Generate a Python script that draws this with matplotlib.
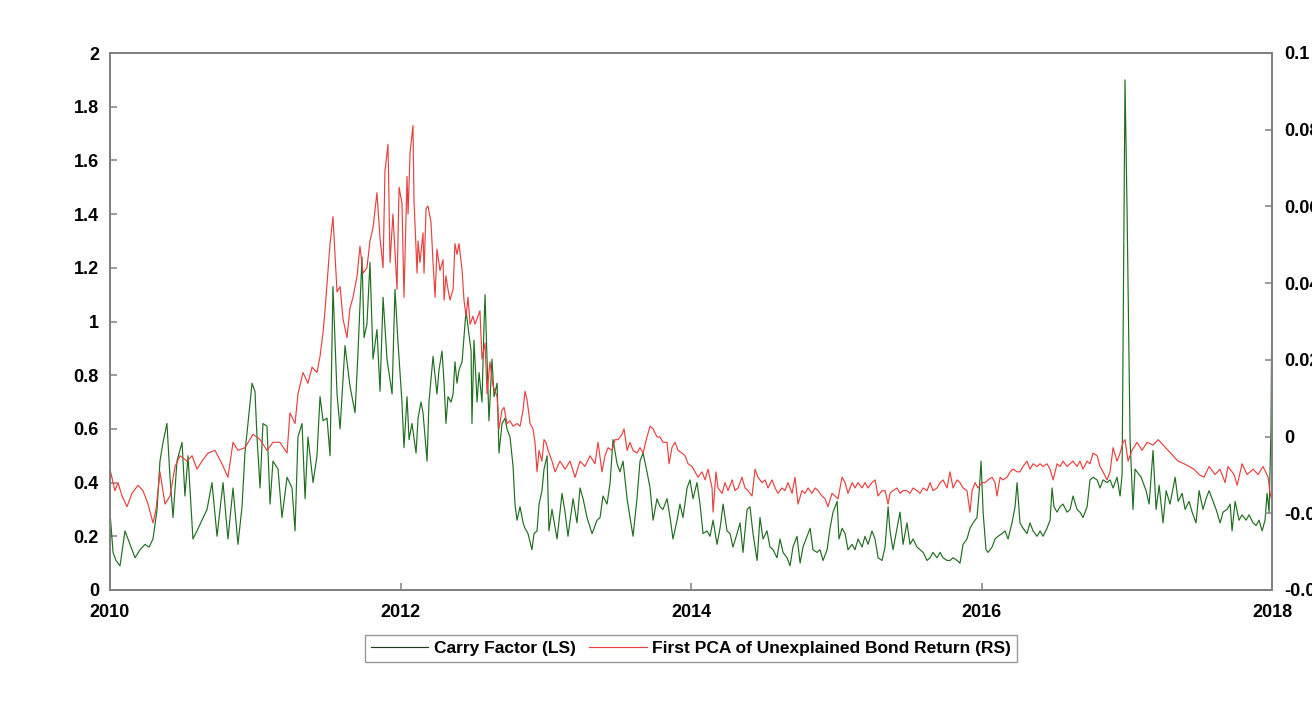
import matplotlib
matplotlib.use("Agg")
import matplotlib.pyplot as plt
import numpy as np

# ---------------- data ----------------
# time given as years since 1 Jan 2010
carry_t = [0.000,0.021,0.041,0.069,0.103,0.138,0.172,0.207,0.241,0.269,0.296,0.324,0.344,0.365,0.392,0.413,0.434,0.461,0.496,0.516,
           0.537,0.571,0.599,0.633,0.668,0.702,0.737,0.778,0.812,0.847,0.881,0.909,0.929,0.978,0.998,1.012,1.033,1.053,1.081,1.102,
           1.122,1.157,1.184,1.219,1.253,1.274,1.294,1.322,1.343,1.363,1.398,1.425,1.446,1.467,1.494,1.515,1.535,1.563,1.584,1.618,
           1.652,1.687,1.707,1.735,1.749,1.769,1.790,1.811,1.838,1.859,1.880,1.907,1.942,1.962,1.983,2.010,2.024,2.045,2.059,2.079,
           2.107,2.121,2.141,2.155,2.183,2.196,2.224,2.251,2.265,2.286,2.300,2.313,2.327,2.348,2.362,2.375,2.389,2.403,2.424,2.437,
           2.451,2.465,2.486,2.492,2.506,2.527,2.541,2.561,2.575,2.582,2.596,2.609,2.630,2.644,2.665,2.678,2.699,2.720,2.733,2.754,
           2.775,2.788,2.802,2.823,2.844,2.857,2.878,2.905,2.919,2.940,2.954,2.974,2.988,3.009,3.022,3.043,3.078,3.112,3.133,3.153,
           3.188,3.215,3.236,3.257,3.284,3.319,3.353,3.374,3.394,3.422,3.443,3.463,3.491,3.511,3.532,3.560,3.580,3.601,3.628,3.649,
           3.670,3.697,3.718,3.739,3.766,3.787,3.807,3.835,3.856,3.876,3.904,3.924,3.945,3.973,3.993,4.014,4.041,4.062,4.083,4.110,
           4.131,4.152,4.179,4.200,4.221,4.248,4.269,4.289,4.317,4.338,4.358,4.386,4.406,4.427,4.455,4.475,4.496,4.523,4.544,4.565,
           4.592,4.613,4.634,4.661,4.682,4.702,4.730,4.751,4.771,4.799,4.820,4.840,4.868,4.888,4.909,4.937,4.957,4.978,5.006,5.019,
           5.040,5.061,5.081,5.109,5.129,5.150,5.178,5.198,5.219,5.246,5.267,5.288,5.315,5.336,5.357,5.370,5.391,5.418,5.439,5.460,
           5.487,5.508,5.529,5.556,5.577,5.598,5.625,5.646,5.666,5.694,5.715,5.735,5.763,5.783,5.804,5.832,5.852,5.873,5.900,5.921,
           5.942,5.969,5.983,5.997,6.011,6.031,6.045,6.073,6.093,6.114,6.141,6.162,6.183,6.210,6.231,6.245,6.265,6.286,6.313,6.334,
           6.355,6.382,6.403,6.424,6.451,6.472,6.486,6.499,6.520,6.541,6.561,6.589,6.610,6.630,6.658,6.678,6.699,6.727,6.747,6.768,
           6.796,6.816,6.837,6.864,6.885,6.906,6.933,6.954,6.968,6.988,7.002,7.023,7.043,7.057,7.099,7.133,7.154,7.181,7.202,7.223,
           7.250,7.271,7.298,7.333,7.354,7.381,7.402,7.429,7.450,7.477,7.498,7.525,7.546,7.567,7.594,7.615,7.643,7.663,7.691,7.712,
           7.725,7.746,7.773,7.794,7.822,7.842,7.870,7.890,7.911,7.932,7.952,7.966,7.980,7.993,8.000]
carry_v = [0.29,0.14,0.11,0.09,0.22,0.17,0.12,0.15,0.17,0.16,0.19,0.30,0.48,0.55,0.62,0.42,0.27,0.48,0.55,0.35,
           0.50,0.19,0.22,0.26,0.30,0.40,0.20,0.40,0.19,0.38,0.17,0.31,0.51,0.77,0.74,0.57,0.38,0.62,0.61,0.32,
           0.48,0.45,0.27,0.42,0.38,0.22,0.57,0.62,0.34,0.57,0.40,0.50,0.72,0.63,0.64,0.50,1.13,0.73,0.60,0.91,
           0.76,0.66,0.88,1.24,0.94,0.99,1.22,0.86,0.97,0.74,1.09,0.86,0.73,1.12,0.92,0.70,0.53,0.72,0.56,0.62,
           0.51,0.64,0.70,0.66,0.48,0.70,0.87,0.73,0.82,0.89,0.77,0.62,0.72,0.70,0.73,0.85,0.77,0.82,0.85,0.94,
           1.04,0.98,0.89,0.62,0.93,0.70,0.81,0.70,0.99,1.10,0.85,0.63,0.86,0.72,0.77,0.51,0.62,0.64,0.60,0.57,
           0.46,0.32,0.26,0.31,0.25,0.23,0.21,0.15,0.21,0.22,0.32,0.37,0.45,0.50,0.22,0.30,0.19,0.36,0.29,0.20,
           0.34,0.25,0.38,0.34,0.27,0.21,0.26,0.27,0.35,0.32,0.40,0.56,0.47,0.44,0.48,0.34,0.27,0.20,0.34,0.48,
           0.51,0.44,0.38,0.26,0.34,0.31,0.30,0.34,0.27,0.19,0.26,0.32,0.27,0.38,0.41,0.34,0.40,0.32,0.21,0.22,
           0.20,0.26,0.17,0.23,0.32,0.22,0.21,0.16,0.21,0.25,0.14,0.30,0.31,0.21,0.11,0.27,0.19,0.22,0.16,0.15,
           0.12,0.19,0.14,0.12,0.09,0.16,0.20,0.10,0.16,0.20,0.23,0.15,0.14,0.15,0.11,0.15,0.23,0.29,0.33,0.19,
           0.23,0.21,0.15,0.17,0.15,0.19,0.16,0.20,0.17,0.22,0.19,0.12,0.11,0.16,0.31,0.22,0.15,0.23,0.29,0.17,
           0.25,0.17,0.19,0.16,0.15,0.14,0.11,0.12,0.14,0.12,0.14,0.12,0.11,0.11,0.12,0.11,0.10,0.17,0.19,0.23,
           0.25,0.27,0.36,0.48,0.29,0.15,0.14,0.16,0.19,0.20,0.21,0.22,0.19,0.25,0.31,0.40,0.25,0.23,0.21,0.25,
           0.22,0.20,0.22,0.20,0.23,0.26,0.38,0.31,0.29,0.31,0.32,0.29,0.30,0.35,0.30,0.29,0.27,0.31,0.41,0.42,
           0.41,0.38,0.41,0.40,0.41,0.38,0.42,0.35,0.43,1.90,1.42,0.56,0.30,0.45,0.42,0.37,0.32,0.52,0.30,0.39,
           0.25,0.37,0.32,0.42,0.33,0.36,0.30,0.33,0.29,0.25,0.37,0.30,0.34,0.37,0.33,0.30,0.25,0.29,0.30,0.32,
           0.22,0.33,0.26,0.28,0.26,0.28,0.25,0.24,0.26,0.22,0.26,0.36,0.29,0.60,1.13]

pca_t = [0.000,0.034,0.055,0.083,0.117,0.151,0.193,0.227,0.262,0.296,0.317,0.344,0.379,0.413,0.448,0.482,0.530,0.565,0.599,0.633,
         0.675,0.723,0.771,0.812,0.847,0.881,0.929,0.985,1.033,1.081,1.122,1.170,1.219,1.239,1.274,1.294,1.329,1.363,1.391,1.425,
         1.446,1.467,1.480,1.515,1.535,1.563,1.584,1.604,1.632,1.652,1.673,1.701,1.721,1.742,1.769,1.790,1.811,1.838,1.859,1.880,
         1.893,1.914,1.928,1.948,1.976,1.990,2.010,2.024,2.045,2.052,2.066,2.086,2.093,2.114,2.121,2.134,2.155,2.162,2.176,2.189,
         2.210,2.224,2.238,2.251,2.272,2.293,2.300,2.313,2.327,2.341,2.362,2.375,2.389,2.403,2.424,2.437,2.451,2.465,2.479,2.499,
         2.513,2.527,2.547,2.561,2.582,2.596,2.616,2.637,2.665,2.678,2.699,2.713,2.733,2.754,2.775,2.802,2.823,2.844,2.857,2.871,
         2.892,2.912,2.926,2.940,2.954,2.974,2.988,3.002,3.016,3.043,3.064,3.098,3.133,3.167,3.202,3.236,3.270,3.305,3.339,3.360,
         3.387,3.408,3.429,3.456,3.477,3.498,3.525,3.539,3.560,3.580,3.601,3.628,3.649,3.670,3.697,3.718,3.739,3.766,3.787,3.807,
         3.835,3.849,3.869,3.890,3.911,3.938,3.959,3.980,4.007,4.028,4.048,4.076,4.097,4.117,4.145,4.152,4.172,4.186,4.214,4.234,
         4.255,4.283,4.303,4.324,4.351,4.372,4.393,4.420,4.441,4.461,4.489,4.510,4.530,4.558,4.579,4.599,4.627,4.647,4.668,4.696,
         4.716,4.737,4.764,4.785,4.806,4.833,4.854,4.875,4.902,4.923,4.943,4.971,4.992,5.012,5.040,5.061,5.081,5.109,5.129,5.150,
         5.178,5.198,5.219,5.246,5.267,5.288,5.315,5.336,5.357,5.370,5.391,5.418,5.439,5.460,5.487,5.508,5.529,5.556,5.577,5.598,
         5.625,5.646,5.666,5.694,5.715,5.735,5.763,5.783,5.804,5.832,5.852,5.873,5.900,5.921,5.935,5.956,5.976,6.004,6.024,6.045,
         6.073,6.093,6.107,6.128,6.148,6.176,6.197,6.217,6.245,6.265,6.286,6.313,6.334,6.355,6.382,6.403,6.424,6.451,6.472,6.493,
         6.520,6.541,6.561,6.589,6.610,6.630,6.658,6.678,6.699,6.727,6.747,6.768,6.796,6.816,6.837,6.864,6.885,6.906,6.933,6.954,
         6.975,6.988,7.009,7.036,7.071,7.105,7.140,7.181,7.216,7.250,7.284,7.319,7.353,7.395,7.429,7.463,7.498,7.532,7.567,7.608,
         7.642,7.677,7.697,7.739,7.760,7.794,7.828,7.870,7.904,7.938,7.973,7.987,8.000]
pca_v = [-0.0085,-0.0141,-0.0120,-0.0155,-0.0183,-0.0148,-0.0127,-0.0141,-0.0176,-0.0225,-0.0190,-0.0092,-0.0176,-0.0155,-0.0078,-0.0050,-0.0064,-0.0050,-0.0085,-0.0064,
         -0.0043,-0.0036,-0.0071,-0.0106,-0.0015,-0.0036,-0.0029,0.0006,-0.0008,-0.0036,-0.0015,-0.0015,-0.0043,0.0062,0.0034,0.0111,0.0167,0.0139,0.0181,0.0167,
         0.0209,0.0272,0.0328,0.0503,0.0573,0.0377,0.0391,0.0307,0.0258,0.0335,0.0363,0.0419,0.0496,0.0426,0.0440,0.0510,0.0545,0.0636,0.0517,0.0440,
         0.0692,0.0762,0.0454,0.0580,0.0384,0.0650,0.0608,0.0363,0.0678,0.0580,0.0741,0.0811,0.0615,0.0426,0.0510,0.0454,0.0531,0.0426,0.0594,0.0601,
         0.0559,0.0454,0.0363,0.0489,0.0433,0.0461,0.0356,0.0419,0.0384,0.0356,0.0384,0.0503,0.0475,0.0503,0.0433,0.0356,0.0314,0.0363,0.0293,0.0314,
         0.0293,0.0307,0.0328,0.0202,0.0244,0.0111,0.0195,0.0132,0.0104,0.0020,0.0069,0.0076,0.0034,0.0041,0.0027,0.0034,0.0027,0.0069,0.0118,0.0097,
         0.0034,0.0020,-0.0015,-0.0092,-0.0036,-0.0064,-0.0008,-0.0015,-0.0036,-0.0064,-0.0092,-0.0064,-0.0085,-0.0064,-0.0106,-0.0064,-0.0078,-0.0050,-0.0071,-0.0015,
         -0.0092,-0.0050,-0.0029,-0.0036,-0.0008,-0.0008,0.0006,0.0020,-0.0036,-0.0015,-0.0036,-0.0043,-0.0029,-0.0043,-0.0001,0.0027,0.0020,-0.0001,-0.0001,-0.0015,
         -0.0015,-0.0071,-0.0029,-0.0015,-0.0036,-0.0043,-0.0050,-0.0071,-0.0078,-0.0092,-0.0106,-0.0092,-0.0113,-0.0085,-0.0134,-0.0197,-0.0092,-0.0134,-0.0148,-0.0120,
         -0.0141,-0.0113,-0.0141,-0.0134,-0.0106,-0.0134,-0.0141,-0.0155,-0.0085,-0.0106,-0.0120,-0.0113,-0.0134,-0.0113,-0.0134,-0.0148,-0.0134,-0.0141,-0.0120,-0.0148,
         -0.0106,-0.0176,-0.0141,-0.0148,-0.0134,-0.0148,-0.0134,-0.0141,-0.0155,-0.0162,-0.0183,-0.0148,-0.0155,-0.0162,-0.0106,-0.0120,-0.0148,-0.0120,-0.0134,-0.0120,
         -0.0134,-0.0120,-0.0134,-0.0120,-0.0113,-0.0155,-0.0141,-0.0141,-0.0176,-0.0148,-0.0141,-0.0134,-0.0148,-0.0141,-0.0141,-0.0148,-0.0134,-0.0141,-0.0148,-0.0134,
         -0.0141,-0.0120,-0.0141,-0.0134,-0.0120,-0.0113,-0.0134,-0.0092,-0.0134,-0.0113,-0.0120,-0.0134,-0.0141,-0.0197,-0.0141,-0.0120,-0.0134,-0.0120,-0.0120,-0.0113,
         -0.0106,-0.0120,-0.0155,-0.0106,-0.0113,-0.0106,-0.0092,-0.0085,-0.0092,-0.0092,-0.0078,-0.0064,-0.0085,-0.0071,-0.0078,-0.0071,-0.0078,-0.0071,-0.0085,-0.0113,
         -0.0071,-0.0078,-0.0064,-0.0078,-0.0071,-0.0064,-0.0078,-0.0064,-0.0085,-0.0064,-0.0071,-0.0043,-0.0050,-0.0078,-0.0092,-0.0113,-0.0092,-0.0029,-0.0064,-0.0043,
         -0.0015,-0.0008,-0.0064,-0.0036,-0.0015,-0.0036,-0.0015,-0.0022,-0.0008,-0.0022,-0.0036,-0.0050,-0.0064,-0.0071,-0.0078,-0.0085,-0.0099,-0.0106,-0.0078,-0.0099,
         -0.0085,-0.0120,-0.0078,-0.0099,-0.0127,-0.0071,-0.0099,-0.0085,-0.0099,-0.0078,-0.0106,-0.0148,-0.0169]

start_year = 2010
x_ticks = [2010, 2012, 2014, 2016, 2018]
left_ticks = [0, 0.2, 0.4, 0.6, 0.8, 1, 1.2, 1.4, 1.6, 1.8, 2]
left_labels = ["0", "0.2", "0.4", "0.6", "0.8", "1", "1.2", "1.4", "1.6", "1.8", "2"]
right_ticks = [-0.04, -0.02, 0, 0.02, 0.04, 0.06, 0.08, 0.1]
right_labels = ["-0.04", "-0.02", "0", "0.02", "0.04", "0.06", "0.08", "0.1"]
label_carry = "Carry Factor (LS)"
label_pca = "First PCA of Unexplained Bond Return (RS)"

# ---------------- drawing ----------------
plt.rcParams['font.family'] = ['Liberation Sans', 'DejaVu Sans']
plt.rcParams['font.weight'] = 'bold'

fig = plt.figure(figsize=(13.12, 7.01), dpi=100)
ax = fig.add_axes([110/1312, 111/701, 1162/1312, 537/701])
ax2 = ax.twinx()

green = '#1f6e1f'
red = '#e8413f'
spine_col = '#808080'

cx = [start_year + t for t in carry_t]
px = [start_year + t for t in pca_t]
l1, = ax.plot(cx, carry_v, color=green, lw=0.85, label=label_carry)
l2, = ax2.plot(px, pca_v, color=red, lw=0.85, label=label_pca)

ax.set_xlim(2010, 2018)
ax.set_ylim(0, 2)
ax2.set_ylim(-0.04, 0.1)

ax.set_xticks(x_ticks)
ax.set_xticklabels([str(v) for v in x_ticks])
ax.set_yticks(left_ticks)
ax.set_yticklabels(left_labels)
ax2.set_yticks(right_ticks)
ax2.set_yticklabels(right_labels)

for a in (ax, ax2):
    for s in a.spines.values():
        s.set_color(spine_col)
        s.set_linewidth(1.3)
    a.tick_params(direction='in', length=5, width=1.1, color=spine_col,
                  labelsize=13, labelcolor='black')
ax.tick_params(axis='y', pad=8)
ax.tick_params(axis='x', pad=10)
ax2.tick_params(axis='y', pad=9)
for lab in ax.get_xticklabels() + ax.get_yticklabels() + ax2.get_yticklabels():
    lab.set_fontweight('bold')

leg = ax.legend([l1, l2], [label_carry, label_pca], loc='upper center',
                bbox_to_anchor=(0.5, -0.083), ncol=2, frameon=True, fancybox=False,
                edgecolor=spine_col, fontsize=12.5, handlelength=3.3, handletextpad=0.3,
                columnspacing=0.8, borderpad=0.35, borderaxespad=0)
leg.get_frame().set_linewidth(1.0)
for txt in leg.get_texts():
    txt.set_fontweight('bold')
leg.legend_handles[0].set_color('#1a3a1a')

fig.savefig('out.png', dpi=100)
